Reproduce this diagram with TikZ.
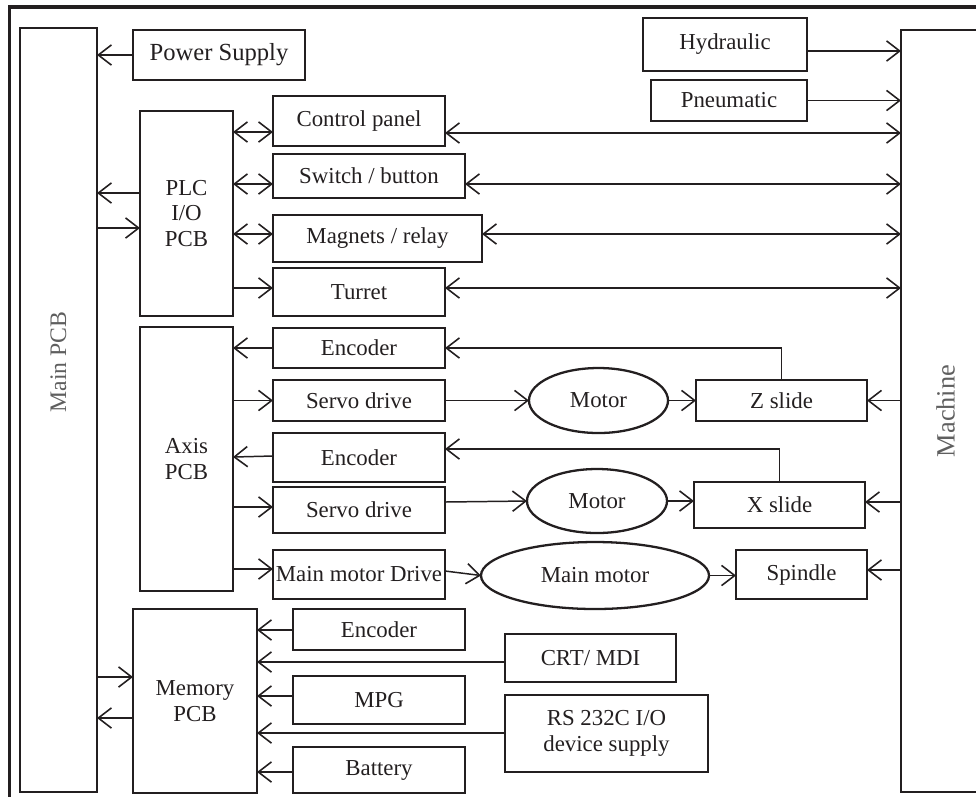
\documentclass[tikz,border=0pt]{standalone}
\usepackage{fontspec}
\setmainfont{Liberation Serif}
\usetikzlibrary{arrows.meta,shapes.geometric}
\definecolor{ink}{RGB}{35,31,32}
\definecolor{lbl}{RGB}{95,95,95}
\tikzset{
 box/.style={draw=ink, line width=1.3pt, inner sep=0pt, outer sep=0pt, text=ink,
   font=\fontsize{13}{14.6}\selectfont, align=center},
 oval/.style={box, ellipse},
 barb/.tip={Straight Barb[length=7.5pt,width=11.5pt,line width=0.9pt]},
 arr/.style={draw=ink, line width=0.85pt, -barb},
 dbl/.style={draw=ink, line width=0.85pt, barb-barb},
 side/.style={text=lbl, rotate=90, inner sep=0pt, font=\fontsize{13.5}{16}\selectfont},
}
\newcommand{\bx}[7][]{\node[box,minimum width={(#5-#3)*0.02cm},minimum height={(#6-#4)*0.02cm},#1] (#2) at ({(#3+#5)/2},{(#4+#6)/2}) {#7};}
\begin{document}
\begin{tikzpicture}[x=0.02cm,y=-0.02cm]
\useasboundingbox (0,0) rectangle (976,796);
\clip (0,0) rectangle (976,796);
\draw[ink, line width=1.8pt] (9.5,7) rectangle (995,815);
% side boxes
\bx{main}{20}{28}{97}{792}{}
\node[side] (mainlbl) at (58.5,362) {Main PCB};
\bx[label={[side,font=\fontsize{15}{18}\selectfont]center:Machine}]{mach}{901}{30}{990}{792}{}
% top
\bx[font=\fontsize{14}{16}\selectfont]{ps}{133}{30}{305}{80}{Power Supply}
\bx{hyd}{643}{18}{807}{71}{Hydraulic}
\bx{pn}{651}{80}{807}{121}{Pneumatic}
% PLC group
\bx{plc}{140}{111}{233}{316}{PLC\\I/O\\PCB}
\bx{cp}{273}{96}{445}{146}{Control panel}
\bx{sw}{273}{154}{465}{198}{Switch / button}
\bx{mag}{273}{215}{482}{262}{Magnets / relay}
\bx{tur}{273}{268}{445}{316}{Turret}
% Axis group
\bx{axis}{140}{327}{233}{591}{Axis\\PCB}
\bx{enc1}{273}{328}{445}{368}{Encoder}
\bx{sv1}{273}{380}{445}{421}{Servo drive}
\bx{enc2}{273}{433}{445}{482}{Encoder}
\bx{sv2}{273}{487}{445}{533}{Servo drive}
\bx{mmd}{273}{550}{445}{599}{Main motor Drive}
\bx[oval]{m1}{529}{368}{668}{433}{Motor}
\bx[oval]{m2}{527}{469}{667}{533}{Motor}
\bx[oval]{mm}{481}{542}{709}{609}{Main motor}
\bx{zs}{696}{380}{867}{421}{Z slide}
\bx{xs}{694}{482}{865}{528}{X slide}
\bx{sp}{736}{550}{867}{599}{Spindle}
% Memory group
\bx{mem}{133}{609}{257}{793}{Memory\\PCB}
\bx{enc3}{293}{609}{465}{650}{Encoder}
\bx{crt}{505}{634}{676}{682}{CRT/ MDI}
\bx{mpg}{293}{676}{465}{724}{MPG}
\bx{rs}{505}{695}{708}{772}{RS 232C I/O\\device supply}
\bx{bat}{293}{747}{465}{793}{Battery}
% connectors: top
\draw[arr] (ps.west) -- (main.east |- ps.west);
\draw[arr] (hyd.east |- 0,51) -- (mach.west |- 0,51);
\draw[arr] (pn.east) -- (mach.west |- pn.east);
% PLC
\draw[arr] (plc.west |- 0,193) -- (main.east |- 0,193);
\draw[arr] (main.east |- 0,228) -- (plc.west |- 0,228);
\draw[dbl] (plc.east |- 0,132) -- (cp.west |- 0,132);
\draw[dbl] (plc.east |- 0,184) -- (sw.west |- 0,184);
\draw[dbl] (plc.east |- 0,234) -- (mag.west |- 0,234);
\draw[arr] (plc.east |- 0,288) -- (tur.west |- 0,288);
\draw[dbl] (cp.east |- 0,133) -- (mach.west |- 0,133);
\draw[dbl] (sw.east |- 0,184) -- (mach.west |- 0,184);
\draw[dbl] (mag.east |- 0,234) -- (mach.west |- 0,234);
\draw[dbl] (tur.east |- 0,288) -- (mach.west |- 0,288);
% Axis
\draw[arr] (enc1.west) -- (axis.east |- enc1.west);
\draw[arr] (axis.east |- sv1.west) -- (sv1.west);
\draw[arr] (enc2.west |- 0,456) -- (axis.east |- 0,457);
\draw[arr] (axis.east |- 0,507) -- (sv2.west |- 0,507);
\draw[arr] (axis.east |- 0,569) -- (mmd.west |- 0,569);
\draw[arr] (sv1.east) -- (m1.west);
\draw[arr] (m1.east) -- (zs.west);
\draw[arr] (sv2.east |- 0,502) -- (m2.west);
\draw[arr] (m2.east) -- (xs.west |- m2.east);
\draw[arr] (mmd.east |- 0,571) -- (mm.west);
\draw[arr] (mm.east) -- (sp.west |- mm.east);
\draw[arr, line width=0.65pt] (zs.north) |- (enc1.east);
\draw[arr, line width=0.65pt] (xs.north) |- (enc2.east |- 0,449);
\draw[arr] (mach.west |- zs.east) -- (zs.east);
\draw[arr] (mach.west |- 0,502) -- (xs.east |- 0,502);
\draw[arr] (mach.west |- 0,570) -- (sp.east |- 0,570);
% Memory
\draw[arr] (main.east |- 0,677) -- (mem.west |- 0,677);
\draw[arr] (mem.west |- 0,718) -- (main.east |- 0,718);
\draw[arr] (enc3.west |- 0,630) -- (mem.east |- 0,630);
\draw[arr] (crt.west |- 0,662) -- (mem.east |- 0,662);
\draw[arr] (mpg.west |- 0,696) -- (mem.east |- 0,696);
\draw[arr] (rs.west |- 0,733) -- (mem.east |- 0,733);
\draw[arr] (bat.west |- 0,772) -- (mem.east |- 0,772);
\end{tikzpicture}
\end{document}
